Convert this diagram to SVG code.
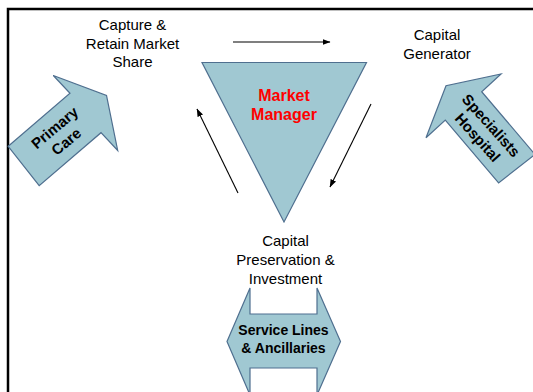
<svg xmlns="http://www.w3.org/2000/svg" width="533" height="392" viewBox="0 0 533 392">
<defs>
<marker id="ah" markerWidth="8" markerHeight="6" refX="7.5" refY="3" orient="auto" markerUnits="userSpaceOnUse">
<path d="M0,0 L8,3 L0,6 Z" fill="#000"/>
</marker>
<style>
.shape{fill:#A0C8D2;stroke:#4F6F8F;stroke-width:1.2}
.lbl{font-family:"Liberation Sans",Arial,sans-serif;font-size:15px;fill:#000;text-anchor:middle}
.blbl{font-family:"Liberation Sans",Arial,sans-serif;font-weight:bold;fill:#000;text-anchor:middle}
.conn{stroke:#000;stroke-width:1.1;fill:none;marker-end:url(#ah)}
</style>
</defs>
<rect x="0" y="0" width="533" height="392" fill="#fff"/>
<rect x="8" y="9" width="600" height="500" fill="none" stroke="#000" stroke-width="2.5"/>

<g id="connectors">
<line class="conn" x1="233" y1="42" x2="330" y2="42"/>
<line class="conn" x1="238" y1="193" x2="197" y2="109"/>
<line class="conn" x1="371" y1="104" x2="330" y2="187"/>
</g>

<g id="market-manager">
<polygon class="shape" points="202,62.5 366.5,62.5 284,222"/>
<text class="blbl" font-size="16" style="fill:#FF0000" x="284" y="101">Market</text>
<text class="blbl" font-size="16" style="fill:#FF0000" x="284" y="119.5">Manager</text>
</g>

<g id="capture">
<text class="lbl" x="132.5" y="30">Capture &amp;</text>
<text class="lbl" x="132.5" y="48.5">Retain Market</text>
<text class="lbl" x="132.5" y="67">Share</text>
</g>

<g id="capital-generator">
<text class="lbl" x="437" y="40">Capital</text>
<text class="lbl" x="437" y="59">Generator</text>
</g>

<g id="capital-preservation">
<text class="lbl" x="285.5" y="246">Capital</text>
<text class="lbl" x="285.5" y="265">Preservation &amp;</text>
<text class="lbl" x="285.5" y="283.5">Investment</text>
</g>

<g id="primary-care">
<polygon class="shape" points="8.2,146.3 70,93.3 53.3,75.5 106.5,95.5 117.7,150.5 101,132.7 39.2,185.7"/>
<g transform="translate(60,134) rotate(-40)">
<text class="blbl" font-size="15" x="0" y="-3">Primary</text>
<text class="blbl" font-size="15" x="0" y="15">Care</text>
</g>
</g>

<g id="specialists-hospital">
<polygon class="shape" points="498.6,182.9 445.3,120.1 426,137.7 446,85.7 501,74 481.7,91.7 535,154.5"/>
<g transform="translate(485,131) rotate(48)">
<text class="blbl" font-size="15" x="0" y="-3">Specialists</text>
<text class="blbl" font-size="15" x="0" y="15">Hospital</text>
</g>
</g>

<g id="service-lines">
<polygon class="shape" points="227,341.5 250,288 250,314 317,314 317,288 340.5,341.5 317,395 317,368 250,368 250,395"/>
<text class="blbl" font-size="14" x="283.5" y="334.5">Service Lines</text>
<text class="blbl" font-size="14" x="283.5" y="352.5">&amp; Ancillaries</text>
</g>
</svg>
